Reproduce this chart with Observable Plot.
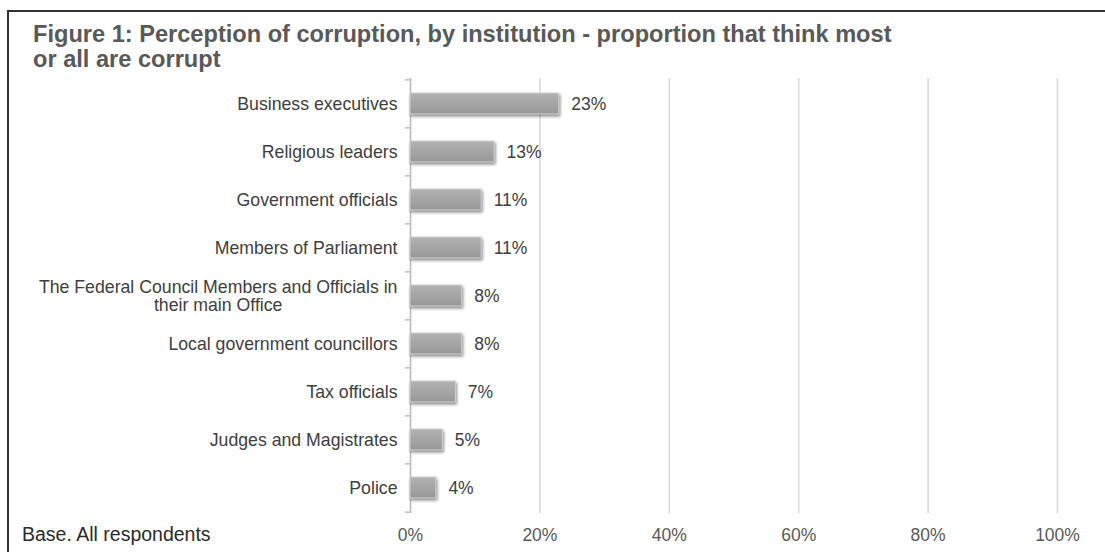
<!DOCTYPE html>
<html>
<head>
<meta charset="utf-8">
<script src="https://cdn.jsdelivr.net/npm/d3@7"></script>
<script src="https://cdn.jsdelivr.net/npm/@observablehq/plot@0.6"></script>
<style>
  html, body { margin: 0; padding: 0; background: #fff; }
  #wrap { position: relative; width: 1105px; height: 552px; overflow: hidden; font-family: "Liberation Sans", Arial, sans-serif; }
  #title { position: absolute; left: 33px; top: 22px; font-size: 23.6px; line-height: 24.5px; font-weight: bold; color: #595959; white-space: nowrap; }
  #caption { position: absolute; left: 22px; top: 525px; font-size: 19.5px; line-height: 19.5px; color: #2b2b2b; white-space: nowrap; }
  #frame { position: absolute; left: 6.5px; top: 10px; right: -10px; bottom: -10px; border-top: 2.5px solid #333333; border-left: 2.5px solid #333333; pointer-events: none; }
  #chart { position: absolute; left: 0; top: 0; }
  .bar rect { filter: drop-shadow(1.5px 2.5px 1.5px rgba(0,0,0,0.45)); }
</style>
</head>
<body>
<div id="wrap">
  <div id="chart"></div>
  <div id="title">Figure 1: Perception of corruption, by institution - proportion that think most<br>or all are corrupt</div>
  <div id="caption">Base. All respondents</div>
  <div id="frame"></div>
</div>
<script>
const categories = [
  "Business executives",
  "Religious leaders",
  "Government officials",
  "Members of Parliament",
  "The Federal Council Members and Officials in\ntheir main Office",
  "Local government councillors",
  "Tax officials",
  "Judges and Magistrates",
  "Police"
];
const values = [23, 13, 11, 11, 8, 8, 7, 5, 4];
const xTicks = [0, 20, 40, 60, 80, 100];

const data = categories.map((name, i) => ({name, value: values[i]}));

const W = 1105, H = 552, mt = 78, mb = 39, ml = 410, mr = 48;
const step = (H - mt - mb) / categories.length;

const defs = () => {
  const ns = "http://www.w3.org/2000/svg";
  const d = document.createElementNS(ns, "defs");
  const g = document.createElementNS(ns, "linearGradient");
  g.setAttribute("id", "barGrad");
  g.setAttribute("x1", "0"); g.setAttribute("y1", "0");
  g.setAttribute("x2", "0"); g.setAttribute("y2", "1");
  [["0%", "#b2b2b2"], ["100%", "#989898"]].forEach(([o, c]) => {
    const s = document.createElementNS(ns, "stop");
    s.setAttribute("offset", o); s.setAttribute("stop-color", c);
    g.appendChild(s);
  });
  d.appendChild(g);
  return d;
};

const chart = Plot.plot({
  width: W,
  height: H,
  marginTop: mt,
  marginBottom: mb,
  marginLeft: ml,
  marginRight: mr,
  style: {fontFamily: "'Liberation Sans', Arial, sans-serif", fontSize: "17.5px", background: "transparent"},
  x: {domain: [0, 100]},
  y: {domain: categories, paddingInner: 0.56, paddingOuter: 0.28},
  marks: [
    defs,
    Plot.gridX(xTicks, {stroke: "#d9d9d9", strokeOpacity: 1, strokeWidth: 1.5}),
    Plot.ruleX([0], {stroke: "#bfbfbf", strokeWidth: 1.5}),
    Plot.ruleY(categories, {y: d => d, x1: 0, x2: 0, insetLeft: -5, dy: -step / 2, stroke: "#bfbfbf", strokeWidth: 1.5}),
    Plot.ruleY(categories.slice(-1), {y: d => d, x1: 0, x2: 0, insetLeft: -5, dy: step / 2, stroke: "#bfbfbf", strokeWidth: 1.5}),
    Plot.barX(data, {x: "value", y: "name", fill: "url(#barGrad)", stroke: "#d4d4d4", strokeWidth: 1, className: "bar"}),
    Plot.text(data, {x: "value", y: "name", text: d => d.value + "%", textAnchor: "start", dx: 12, fill: "#404040", fontSize: 17.5}),
    Plot.axisY({tickSize: 0, tickPadding: 13, fill: "#404040", fontSize: 17.7, lineHeight: 1.03, label: null}),
    Plot.axisX(xTicks, {tickSize: 0, tickPadding: 15, tickFormat: d => d + "%", fill: "#595959", fontSize: 17.5, label: null})
  ]
});

document.getElementById("chart").appendChild(chart);

// center multi-line category labels like the original
chart.querySelectorAll('g[aria-label="y-axis tick label"] text').forEach(t => {
  const spans = t.querySelectorAll("tspan");
  if (spans.length > 1) {
    const w = t.getBBox().width;
    t.setAttribute("text-anchor", "middle");
    spans.forEach(s => s.setAttribute("x", -w / 2));
  }
});
</script>
</body>
</html>
